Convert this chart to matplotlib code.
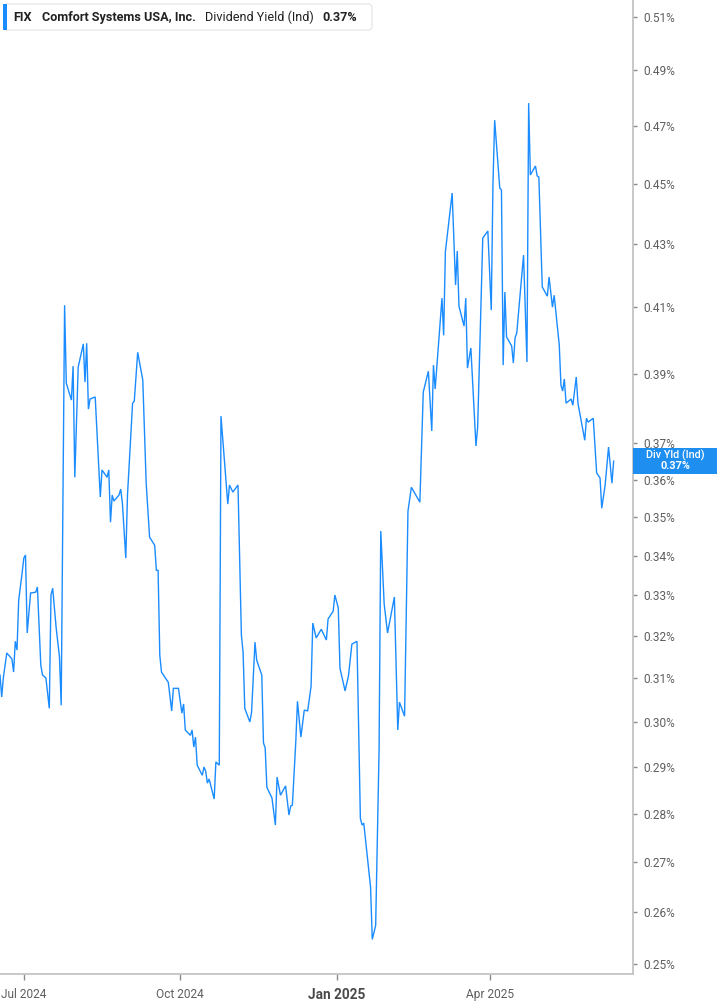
"""Dividend yield (indicated) for FIX, one year, log-scaled axis on the right."""

import matplotlib
matplotlib.use("Agg")
import matplotlib.pyplot as plt
from matplotlib.patches import FancyBboxPatch, Rectangle
from matplotlib.ticker import NullLocator, FixedLocator, FixedFormatter
import pandas as pd

TICKER = "FIX"
COMPANY = "Comfort Systems USA, Inc."
METRIC = "Dividend Yield (Ind)"
LAST = "0.37%"

dates = [
    "2024-06-17", "2024-06-18", "2024-06-19", "2024-06-21", "2024-06-24", "2024-06-25",
    "2024-06-26", "2024-06-27", "2024-06-28", "2024-06-30", "2024-07-01", "2024-07-02",
    "2024-07-03", "2024-07-05", "2024-07-08", "2024-07-09", "2024-07-11", "2024-07-12",
    "2024-07-14", "2024-07-16", "2024-07-17", "2024-07-18", "2024-07-20", "2024-07-22",
    "2024-07-23", "2024-07-25", "2024-07-26", "2024-07-29", "2024-07-30", "2024-07-31",
    "2024-08-02", "2024-08-05", "2024-08-06", "2024-08-07", "2024-08-08", "2024-08-09",
    "2024-08-12", "2024-08-15", "2024-08-16", "2024-08-19", "2024-08-20", "2024-08-21",
    "2024-08-22", "2024-08-23", "2024-08-26", "2024-08-27", "2024-08-28", "2024-08-30",
    "2024-08-31", "2024-09-03", "2024-09-04", "2024-09-06", "2024-09-09", "2024-09-11",
    "2024-09-13", "2024-09-16", "2024-09-17", "2024-09-18", "2024-09-19", "2024-09-20",
    "2024-09-24", "2024-09-26", "2024-09-27", "2024-09-30", "2024-10-02", "2024-10-03",
    "2024-10-04", "2024-10-07", "2024-10-08", "2024-10-09", "2024-10-10", "2024-10-11",
    "2024-10-14", "2024-10-15", "2024-10-16", "2024-10-17", "2024-10-18", "2024-10-21",
    "2024-10-22", "2024-10-24", "2024-10-25", "2024-10-29", "2024-10-30", "2024-11-01",
    "2024-11-04", "2024-11-06", "2024-11-07", "2024-11-08", "2024-11-11", "2024-11-12",
    "2024-11-14", "2024-11-15", "2024-11-18", "2024-11-19", "2024-11-20", "2024-11-21",
    "2024-11-24", "2024-11-26", "2024-11-27", "2024-11-29", "2024-12-02", "2024-12-04",
    "2024-12-05", "2024-12-06", "2024-12-08", "2024-12-09", "2024-12-11", "2024-12-13",
    "2024-12-15", "2024-12-17", "2024-12-18", "2024-12-20", "2024-12-23", "2024-12-26",
    "2024-12-27", "2024-12-30", "2024-12-31", "2025-01-02", "2025-01-03", "2025-01-06",
    "2025-01-08", "2025-01-10", "2025-01-13", "2025-01-15", "2025-01-16", "2025-01-17",
    "2025-01-21", "2025-01-22", "2025-01-24", "2025-01-26", "2025-01-27", "2025-01-29",
    "2025-01-31", "2025-02-04", "2025-02-06", "2025-02-07", "2025-02-10", "2025-02-12",
    "2025-02-14", "2025-02-19", "2025-02-21", "2025-02-24", "2025-02-26", "2025-02-27",
    "2025-02-28", "2025-03-04", "2025-03-05", "2025-03-06", "2025-03-10", "2025-03-12",
    "2025-03-13", "2025-03-14", "2025-03-17", "2025-03-18", "2025-03-19", "2025-03-21",
    "2025-03-24", "2025-03-25", "2025-03-28", "2025-03-31", "2025-04-02", "2025-04-03",
    "2025-04-04", "2025-04-07", "2025-04-08", "2025-04-09", "2025-04-10", "2025-04-11",
    "2025-04-14", "2025-04-15", "2025-04-16", "2025-04-17", "2025-04-21", "2025-04-23",
    "2025-04-24", "2025-04-25", "2025-04-28", "2025-04-29", "2025-04-30", "2025-05-02",
    "2025-05-05", "2025-05-06", "2025-05-08", "2025-05-09", "2025-05-12", "2025-05-13",
    "2025-05-14", "2025-05-15", "2025-05-16", "2025-05-19", "2025-05-20", "2025-05-22",
    "2025-05-23", "2025-05-27", "2025-05-28", "2025-05-29", "2025-06-01", "2025-06-03",
    "2025-06-05", "2025-06-06", "2025-06-08", "2025-06-10", "2025-06-12", "2025-06-13",
]

# dividend yield in percent
yield_pct = [
    0.3108, 0.3057, 0.3103, 0.3160, 0.3146, 0.3115, 0.3188, 0.3167, 0.3288, 0.3356,
    0.3394, 0.3402, 0.3208, 0.3306, 0.3308, 0.3321, 0.3131, 0.3108, 0.3101, 0.3031,
    0.3301, 0.3318, 0.3222, 0.3150, 0.3038, 0.4106, 0.3872, 0.3823, 0.3922, 0.3607,
    0.3919, 0.3988, 0.3875, 0.3990, 0.3797, 0.3826, 0.3832, 0.3554, 0.3627, 0.3607,
    0.3627, 0.3487, 0.3559, 0.3543, 0.3559, 0.3575, 0.3538, 0.3394, 0.3559, 0.3814,
    0.3820, 0.3963, 0.3881, 0.3591, 0.3448, 0.3427, 0.3363, 0.3363, 0.3155, 0.3115,
    0.3091, 0.3025, 0.3077, 0.3077, 0.3020, 0.3041, 0.2982, 0.2970, 0.2982, 0.2944,
    0.2966, 0.2904, 0.2882, 0.2900, 0.2891, 0.2865, 0.2874, 0.2831, 0.2911, 0.2904,
    0.3777, 0.3535, 0.3586, 0.3567, 0.3586, 0.3203, 0.3162, 0.3031, 0.3000, 0.3022,
    0.3186, 0.3143, 0.3108, 0.2953, 0.2942, 0.2856, 0.2833, 0.2776, 0.2878, 0.2839,
    0.2859, 0.2797, 0.2816, 0.2818, 0.2955, 0.3047, 0.2966, 0.3027, 0.3025, 0.3082,
    0.3232, 0.3196, 0.3217, 0.3191, 0.3242, 0.3261, 0.3301, 0.3269, 0.3124, 0.3071,
    0.3106, 0.3181, 0.3188, 0.2790, 0.2776, 0.2780, 0.2649, 0.2547, 0.2574, 0.2937,
    0.3464, 0.3279, 0.3208, 0.3296, 0.2982, 0.3045, 0.3013, 0.3516, 0.3580, 0.3540,
    0.3846, 0.3907, 0.3735, 0.3925, 0.3855, 0.4128, 0.4014, 0.4274, 0.4468, 0.4169,
    0.4277, 0.4103, 0.4042, 0.4128, 0.3916, 0.3976, 0.3693, 0.3746, 0.4319, 0.4342,
    0.4091, 0.4498, 0.4720, 0.4485, 0.4478, 0.3925, 0.4147, 0.4009, 0.3982, 0.3931,
    0.4006, 0.4021, 0.4264, 0.3934, 0.4781, 0.4529, 0.4560, 0.4526, 0.4522, 0.4163,
    0.4134, 0.4194, 0.4100, 0.4137, 0.3985, 0.3866, 0.3849, 0.3884, 0.3814, 0.3826,
    0.3808, 0.3890, 0.3814, 0.3709, 0.3771, 0.3760, 0.3771, 0.3619, 0.3605, 0.3524,
    0.3586, 0.3690, 0.3591, 0.3651,
]

y_ticks = [0.25, 0.26, 0.27, 0.28, 0.29, 0.30, 0.31, 0.32, 0.33, 0.34, 0.35,
           0.36, 0.37, 0.39, 0.41, 0.43, 0.45, 0.47, 0.49, 0.51]
x_ticks = ["2024-07-01", "2024-10-01", "2025-01-01", "2025-04-01"]
x_labels = ["Jul 2024", "Oct 2024", "Jan 2025", "Apr 2025"]

LINE = "#1a8cff"
GREY = "#5f5f5f"
AXIS = "#c4c4c4"
W, H = 717, 1005


def fx(px):
    return px / W


def fy(py):
    return 1 - py / H


def main():
    plt.rcParams["font.family"] = ["Roboto", "DejaVu Sans"]
    fig = plt.figure(figsize=(W / 100, H / 100), dpi=100)
    ax = fig.add_axes([0, fy(973.7), fx(632.7), 973.7 / H])

    x = pd.to_datetime(dates)
    ax.plot(x, yield_pct, color=LINE, lw=1.0, solid_joinstyle="miter")

    ax.set_yscale("log")
    ax.set_ylim(0.2482, 0.5167)
    ax.set_xlim(pd.Timestamp("2024-06-17"), pd.Timestamp("2025-06-24 05:00"))

    ax.yaxis.tick_right()
    ax.yaxis.set_major_locator(FixedLocator(y_ticks))
    ax.yaxis.set_major_formatter(FixedFormatter([f"{t:.2f}%" for t in y_ticks]))
    ax.yaxis.set_minor_locator(NullLocator())
    ax.tick_params(axis="y", direction="out", length=3, width=1, color="#8a8a8a",
                   labelsize=8.6, labelcolor=GREY, pad=5)

    ax.set_xticks(pd.to_datetime(x_ticks))
    ax.set_xticklabels(x_labels)
    ax.xaxis.set_minor_locator(NullLocator())
    ax.tick_params(axis="x", direction="out", length=4, width=1, color="#8a8a8a",
                   labelsize=8.6, labelcolor=GREY, pad=6)
    for lab in ax.get_xticklabels():
        if lab.get_text().startswith("Jan"):
            lab.set_fontweight("bold")
            lab.set_fontsize(9.8)
            lab.set_color("#4a4a4a")

    for side in ["left", "top"]:
        ax.spines[side].set_visible(False)
    for side in ["right", "bottom"]:
        ax.spines[side].set_color(AXIS)
        ax.spines[side].set_linewidth(1.3)

    # header box
    box = FancyBboxPatch((fx(4), fy(30)), fx(368), 26 / H,
                         boxstyle="round,pad=0,rounding_size=0.004",
                         transform=fig.transFigure, facecolor="white",
                         edgecolor="#e4e4e4", lw=0.8, zorder=5)
    fig.patches.append(box)
    fig.patches.append(Rectangle((fx(3), fy(30)), fx(3.5), 26 / H,
                                 transform=fig.transFigure, facecolor=LINE,
                                 edgecolor="none", zorder=6))
    ty = fy(17.5)
    fs = 9.1
    fig.text(fx(13), ty, TICKER, fontsize=fs, fontweight="bold", color="#222222",
             va="center", zorder=7)
    fig.text(fx(42), ty, COMPANY, fontsize=fs, fontweight="bold", color="#222222",
             va="center", zorder=7)
    fig.text(fx(205), ty, METRIC, fontsize=fs, color="#222222",
             va="center", zorder=7)
    fig.text(fx(322), ty, LAST, fontsize=fs, fontweight="bold", color="#222222",
             va="center", zorder=7)

    # last value flag on the right axis
    fig.patches.append(Rectangle((fx(633), fy(474)), fx(84), 26 / H,
                                 transform=fig.transFigure, facecolor="#1e8ef0",
                                 edgecolor="none", zorder=6))
    fig.text(fx(675), fy(455.5), "Div Yld (Ind)", fontsize=7.8, color="white",
             fontweight="medium", ha="center", va="center", zorder=7)
    fig.text(fx(675), fy(466), LAST, fontsize=7.8, color="white",
             fontweight="bold", ha="center", va="center", zorder=7)

    fig.savefig("out.png", dpi=100)


if __name__ == "__main__":
    main()
